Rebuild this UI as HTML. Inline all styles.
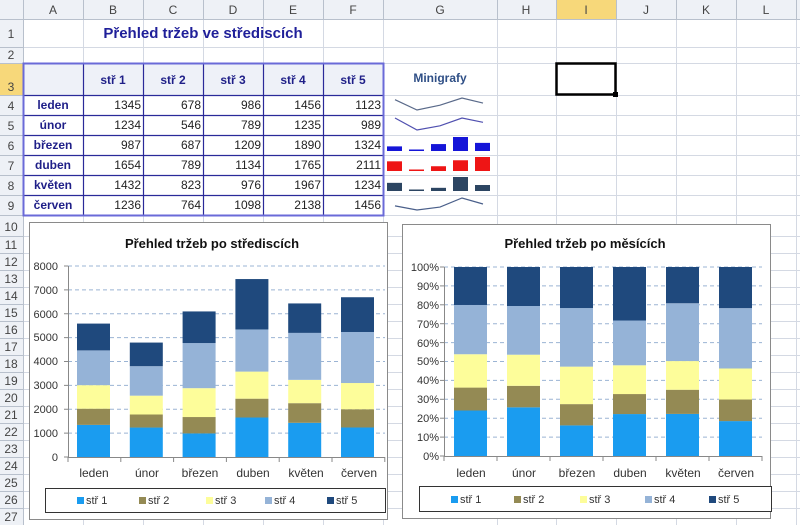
<!DOCTYPE html>
<html><head><meta charset="utf-8">
<style>
body{margin:0;width:800px;height:525px;overflow:hidden;background:#fff;font-family:"Liberation Sans",Arial,sans-serif;position:relative}
.a{position:absolute}
</style></head><body>
<svg class="a" style="left:0;top:0" width="800" height="525" xmlns="http://www.w3.org/2000/svg" font-family="Liberation Sans, Arial, sans-serif">
<g id="grid" stroke="#d4d9e3" stroke-width="1"></g>
<!-- header -->
<rect x="0" y="0" width="800" height="19" fill="#eef1f6"/>
<rect x="0" y="0" width="23" height="525" fill="#eef1f6"/>
<rect x="556" y="0" width="60" height="19" fill="#f7d87a"/>
<rect x="0" y="63" width="23" height="32" fill="#f7d87a"/>
<g id="hdr" stroke="#b8c0cc" stroke-width="1"></g>
<g font-size="12" fill="#444" text-anchor="middle">
<text x="53" y="14">A</text><text x="113" y="14">B</text><text x="173" y="14">C</text><text x="233" y="14">D</text><text x="293" y="14">E</text><text x="353" y="14">F</text><text x="440" y="14">G</text><text x="526" y="14">H</text><text x="586" y="14">I</text><text x="646" y="14">J</text><text x="706" y="14">K</text><text x="766" y="14">L</text>
<text x="11" y="38">1</text><text x="11" y="59">2</text><text x="11" y="91">3</text><text x="11" y="110">4</text><text x="11" y="130">5</text><text x="11" y="150">6</text><text x="11" y="170">7</text><text x="11" y="190">8</text><text x="11" y="210">9</text>
<text x="11" y="231">10</text><text x="11" y="249">11</text><text x="11" y="266">12</text><text x="11" y="283">13</text><text x="11" y="300">14</text><text x="11" y="317">15</text><text x="11" y="334">16</text><text x="11" y="351">17</text><text x="11" y="368">18</text><text x="11" y="385">19</text><text x="11" y="402">20</text><text x="11" y="419">21</text><text x="11" y="436">22</text><text x="11" y="453">23</text><text x="11" y="470">24</text><text x="11" y="487">25</text><text x="11" y="504">26</text><text x="11" y="521">27</text>
</g>
<!-- title -->
<text x="203" y="38" font-size="15" font-weight="bold" fill="#1f1f99" text-anchor="middle">Přehled tržeb ve střediscích</text>
<!-- table -->
<rect x="24" y="64" width="359" height="31" fill="#eef1f8"/>
<g id="tbl" stroke="#2a2a99" stroke-width="1.2" fill="none"></g>
<rect x="23.5" y="63.5" width="360" height="152" fill="none" stroke="#6a6ad8" stroke-width="2"/>
<g font-size="12" font-weight="bold" fill="#1f1f88" text-anchor="middle">
<text x="113" y="84">stř 1</text><text x="173" y="84">stř 2</text><text x="233" y="84">stř 3</text><text x="293" y="84">stř 4</text><text x="353" y="84">stř 5</text>
<text x="53" y="109">leden</text><text x="53" y="129">únor</text><text x="53" y="149">březen</text><text x="53" y="169">duben</text><text x="53" y="189">květen</text><text x="53" y="209">červen</text>
</g>
<g font-size="12" fill="#222" text-anchor="end" id="nums"></g>
<text x="440" y="82" font-size="12" font-weight="bold" fill="#2f4f86" text-anchor="middle">Minigrafy</text>
<g id="spark"></g>
<rect x="556.5" y="63.5" width="59" height="31" fill="none" stroke="#000" stroke-width="2.5"/>
<rect x="613" y="92" width="5" height="5" fill="#000"/>
<!-- chart 1 -->
<rect x="29.5" y="222.5" width="358" height="297" fill="#fff" stroke="#8a8a8a"/>
<text x="212" y="248" font-size="13" font-weight="bold" fill="#111" text-anchor="middle">Přehled tržeb po střediscích</text>
<g id="c1"></g>
<g font-size="11" fill="#333" text-anchor="end">
<text x="58" y="270">8000</text><text x="58" y="246" visibility="hidden">x</text>
<text x="58" y="294">7000</text><text x="58" y="318">6000</text><text x="58" y="341">5000</text><text x="58" y="365">4000</text><text x="58" y="389">3000</text><text x="58" y="413">2000</text><text x="58" y="437">1000</text><text x="58" y="461">0</text>
</g>
<g font-size="12" fill="#333" text-anchor="middle">
<text x="94" y="477">leden</text><text x="147" y="477">únor</text><text x="200" y="477">březen</text><text x="253" y="477">duben</text><text x="306" y="477">květen</text><text x="359" y="477">červen</text>
</g>
<rect x="45.5" y="488.5" width="340" height="24" fill="#fff" stroke="#333"/>
<g font-size="11" fill="#333">
<rect x="77" y="497" width="7" height="7" fill="#1a9cf0"/><text x="86" y="504">stř 1</text>
<rect x="139" y="497" width="7" height="7" fill="#948a54"/><text x="148" y="504">stř 2</text>
<rect x="206" y="497" width="7" height="7" fill="#fdfd9a"/><text x="215" y="504">stř 3</text>
<rect x="265" y="497" width="7" height="7" fill="#95b3d7"/><text x="274" y="504">stř 4</text>
<rect x="327" y="497" width="7" height="7" fill="#1f497d"/><text x="336" y="504">stř 5</text>
</g>
<!-- chart 2 -->
<rect x="402.5" y="224.5" width="368" height="294" fill="#fff" stroke="#8a8a8a"/>
<text x="585" y="248" font-size="13" font-weight="bold" fill="#111" text-anchor="middle">Přehled tržeb po měsících</text>
<g id="c2"></g>
<g font-size="11" fill="#333" text-anchor="end">
<text x="439" y="271">100%</text><text x="439" y="290">90%</text><text x="439" y="309">80%</text><text x="439" y="328">70%</text><text x="439" y="347">60%</text><text x="439" y="365">50%</text><text x="439" y="384">40%</text><text x="439" y="403">30%</text><text x="439" y="422">20%</text><text x="439" y="441">10%</text><text x="439" y="460">0%</text>
</g>
<g font-size="12" fill="#333" text-anchor="middle">
<text x="471" y="477">leden</text><text x="524" y="477">únor</text><text x="577" y="477">březen</text><text x="630" y="477">duben</text><text x="683" y="477">květen</text><text x="736" y="477">červen</text>
</g>
<rect x="419.5" y="486.5" width="352" height="25" fill="#fff" stroke="#333"/>
<g font-size="11" fill="#333">
<rect x="451" y="496" width="7" height="7" fill="#1a9cf0"/><text x="460" y="503">stř 1</text>
<rect x="514" y="496" width="7" height="7" fill="#948a54"/><text x="523" y="503">stř 2</text>
<rect x="580" y="496" width="7" height="7" fill="#fdfd9a"/><text x="589" y="503">stř 3</text>
<rect x="645" y="496" width="7" height="7" fill="#95b3d7"/><text x="654" y="503">stř 4</text>
<rect x="709" y="496" width="7" height="7" fill="#1f497d"/><text x="718" y="503">stř 5</text>
</g>
</svg>
<script>
var NS="http://www.w3.org/2000/svg";
function el(p,t,a){var e=document.createElementNS(NS,t);for(var k in a)e.setAttribute(k,a[k]);document.getElementById(p).appendChild(e);return e;}
var cols=[23,83,143,203,263,323,383,497,556,616,676,736,796];
var rows=[19,47,63,95,115,135,155,175,195,215];for(var y=236;y<=525;y+=17)rows.push(y);
cols.forEach(function(x){el("grid","line",{x1:x+.5,y1:19,x2:x+.5,y2:525});el("hdr","line",{x1:x+.5,y1:0,x2:x+.5,y2:19});});
rows.forEach(function(y){el("grid","line",{x1:23,y1:y+.5,x2:800,y2:y+.5});el("hdr","line",{x1:0,y1:y+.5,x2:23,y2:y+.5});});
el("hdr","line",{x1:0,y1:19.5,x2:800,y2:19.5});el("hdr","line",{x1:23.5,y1:0,x2:23.5,y2:525});
// table borders
for(var i=0;i<=6;i++){el("tbl","line",{x1:cols[i]+.5,y1:63,x2:cols[i]+.5,y2:215});}
[63,95,115,135,155,175,195,215].forEach(function(y){el("tbl","line",{x1:23,y1:y+.5,x2:383,y2:y+.5});});
var D=[[1345,678,986,1456,1123],[1234,546,789,1235,989],[987,687,1209,1890,1324],[1654,789,1134,1765,2111],[1432,823,976,1967,1234],[1236,764,1098,2138,1456]];
D.forEach(function(r,i){r.forEach(function(v,j){var t=el("nums","text",{x:cols[j+1]+58,y:109+i*20});t.textContent=v;});});
// sparklines
var sx=[395,417,440,462,483],bx=[387,409,431,453,475];
var lineCol={0:"#5a6a8a",1:"#5050b0",5:"#4a5f8a"},barCol={2:"#1515d8",3:"#ee1515",4:"#2c4562"};
D.forEach(function(r,i){var mn=Math.min.apply(null,r),mx=Math.max.apply(null,r);var top=95+i*20;
 if(lineCol[i]){var pts=r.map(function(v,j){return sx[j]+","+(top+15-(v-mn)/(mx-mn)*12).toFixed(1)}).join(" ");
  el("spark","polyline",{points:pts,fill:"none",stroke:lineCol[i],"stroke-width":1.2});}
 else{r.forEach(function(v,j){var h=1.5+(v-mn)/(mx-mn)*12.5;el("spark","rect",{x:bx[j],y:top+16-h,width:15,height:h,fill:barCol[i]});});}
});
var C=["#1a9cf0","#948a54","#fdfd9a","#95b3d7","#1f497d"];
// chart1
for(var k=0;k<=8;k++){var y=457-k*191/8;if(k>0)el("c1","line",{x1:68,y1:y,x2:385,y2:y,stroke:"#9bb4d4","stroke-dasharray":"4,3"});el("c1","line",{x1:64,y1:y,x2:68,y2:y,stroke:"#888"});}
el("c1","line",{x1:68.5,y1:266,x2:68.5,y2:457,stroke:"#888"});el("c1","line",{x1:68,y1:457.5,x2:385,y2:457.5,stroke:"#888"});
D.forEach(function(r,i){var x=77+i*52.8,c=0;r.forEach(function(v,j){var h=v*191/8000;el("c1","rect",{x:x,y:457-c-h,width:33,height:h,fill:C[j]});c+=h;});});
for(var i=0;i<=6;i++){var x=68+i*52.8;el("c1","line",{x1:x,y1:457,x2:x,y2:462,stroke:"#888"});}
// chart2
for(var k=0;k<=10;k++){var y=456-k*18.9;if(k>0)el("c2","line",{x1:444,y1:y,x2:762,y2:y,stroke:"#9bb4d4","stroke-dasharray":"4,3"});el("c2","line",{x1:440,y1:y,x2:444,y2:y,stroke:"#888"});}
el("c2","line",{x1:444.5,y1:267,x2:444.5,y2:456,stroke:"#888"});el("c2","line",{x1:444,y1:456.5,x2:762,y2:456.5,stroke:"#888"});
D.forEach(function(r,i){var x=454+i*53,s=r.reduce(function(a,b){return a+b}),c=0;r.forEach(function(v,j){var h=v/s*189;el("c2","rect",{x:x,y:456-c-h,width:33,height:h,fill:C[j]});c+=h;});});
for(var i=0;i<=6;i++){var x=444+i*53;el("c2","line",{x1:x,y1:456,x2:x,y2:461,stroke:"#888"});}
</script>
</body></html>
